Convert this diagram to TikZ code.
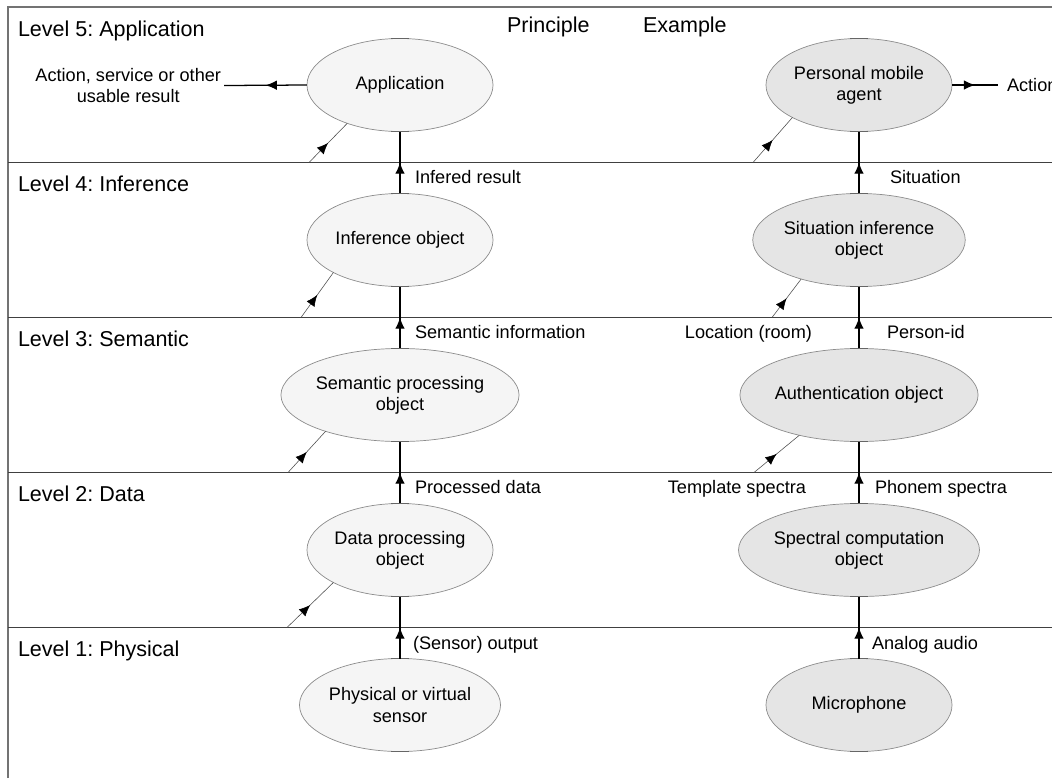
\documentclass[tikz,border=0pt]{standalone}
\usepackage{fontspec}
\setmainfont{Liberation Sans}
\usetikzlibrary{arrows.meta,decorations.markings,shapes.geometric}
\frenchspacing
\newcommand{\bigtxt}{\fontsize{15.3}{18}\selectfont}
\newcommand{\smalltxt}{\fontsize{12.9}{15}\selectfont}
\begin{document}
\begin{tikzpicture}[x=0.025cm,y=-0.025cm,inner sep=0pt,outer sep=0pt,
obj/.style={draw=black!45,line width=0.5pt,ellipse,minimum width=4.65cm,minimum height=2.325cm,align=center,font=\smalltxt},
princ/.style={obj,fill=black!4},
expl/.style={obj,fill=black!10},
band/.style={draw=black!75,line width=0.8pt},
tick/.style={draw=black!60,line width=0.8pt},
midtip/.style={postaction={decorate},decoration={markings,mark=at position #1 with {\arrow[black]{Latex[length=2.8mm,width=2.4mm]}}}},
flow/.style={line width=0.9pt,midtip=0.5},
input/.style={draw=black!70,line width=0.4pt,midtip=0.5},
lvl/.style={anchor=base west,font=\bigtxt},
lbl/.style={anchor=base west,font=\smalltxt}]
\useasboundingbox (0,0) rectangle (1052,778);
% frame and level bands
\draw[band,draw=black!55] (8,778) -- (8,7) -- (1052,7);
\foreach \yy in {162.5,317.5,472.5,627.5}
  \draw[band] (8,\yy) -- (1052,\yy);
\draw (18,36) node[lvl] (l5) {Level 5: Application};
\draw (18,191) node[lvl] (l4) {Level 4: Inference};
\draw (18,346) node[lvl] (l3) {Level 3: Semantic};
\draw (18,501) node[lvl] (l2) {Level 2: Data};
\draw (18,656) node[lvl] (l1) {Level 1: Physical};
\draw (507,32) node[lvl] (hp) {Principle};
\draw (643,32) node[lvl] (he) {Example};
% principle column
\draw (400,85) node[princ] (app) {Application};
\draw (400,240) node[princ] (inf) {Inference object};
\draw (400,395) node[princ] (sem) {Semantic processing\\object};
\draw (400,550) node[princ] (dat) {Data processing\\object};
\draw (400,705) node[princ] (sen) {Physical or virtual\\sensor};
% example column
\draw (859,85) node[expl] (pma) {Personal mobile\\agent};
\draw (859,240) node[expl] (sit) {Situation inference\\object};
\draw (859,395) node[expl] (aut) {Authentication object};
\draw (859,550) node[expl] (spc) {Spectral computation\\object};
\draw (859,705) node[expl] (mic) {Microphone};
\foreach \n in {app,inf,sem,dat,sen,pma,sit,aut,spc,mic} {
  \draw[tick] (\n.north) ++(-9,0) -- ++(18,0);
  \draw[tick] (\n.south) ++(-9,0) -- ++(18,0);
}
% data flow upwards
\draw[flow] (sen.north) -- (dat.south);
\draw[flow] (dat.north) -- (sem.south);
\draw[flow] (sem.north) -- (inf.south);
\draw[flow] (inf.north) -- (app.south);
\draw[flow] (mic.north) -- (spc.south);
\draw[flow] (spc.north) -- (aut.south);
\draw[flow] (aut.north) -- (sit.south);
\draw[flow] (sit.north) -- (pma.south);
\draw (413,649) node[lbl] (o1) {(Sensor) output};
\draw (415,493) node[lbl] (o2) {Processed data};
\draw (415,338) node[lbl] (o3) {Semantic information};
\draw (415,183) node[lbl] (o4) {Infered result};
\draw (872,649) node[lbl] (e1) {Analog audio};
\draw (875,493) node[lbl] (e2) {Phonem spectra};
\draw (887,338) node[lbl] (e3) {Person-id};
\draw (890,183) node[lbl] (e4) {Situation};
% outside inputs
\coordinate (in5l) at (309,162.5);
\coordinate (in4l) at (301,317.5);
\coordinate (in3l) at (288,472.5);
\coordinate (in2l) at (287,627.5);
\coordinate (in5r) at (753,162.5);
\coordinate (in4r) at (772,317.5);
\coordinate (in3r) at (754,472.5);
\draw[input] (in5l) -- (app.216);
\draw[input] (in4l) -- (inf.206);
\draw[input] (in3l) -- (sem.206);
\draw[input] (in2l) -- (dat.206);
\draw[input] (in5r) -- (pma.206);
\draw[input] (in4r) -- (sit.214);
\draw[input] (in3r) -- (aut.214);
\draw (812,338) node[lbl,anchor=base east] (loc) {Location (room)};
\draw (806,493) node[lbl,anchor=base east] (tpl) {Template spectra};
% results
\draw (221,85.5) node[font=\smalltxt,align=center,anchor=east] (res) {Action, service or other\\usable result};
\draw (1007,85) node[font=\smalltxt,anchor=west] (act) {Action};
\draw[flow] (app.west) -- ([xshift=0.08cm]res.east);
\draw[flow] (pma.east) -- ([xshift=-0.22cm]act.west);
\end{tikzpicture}
\end{document}
